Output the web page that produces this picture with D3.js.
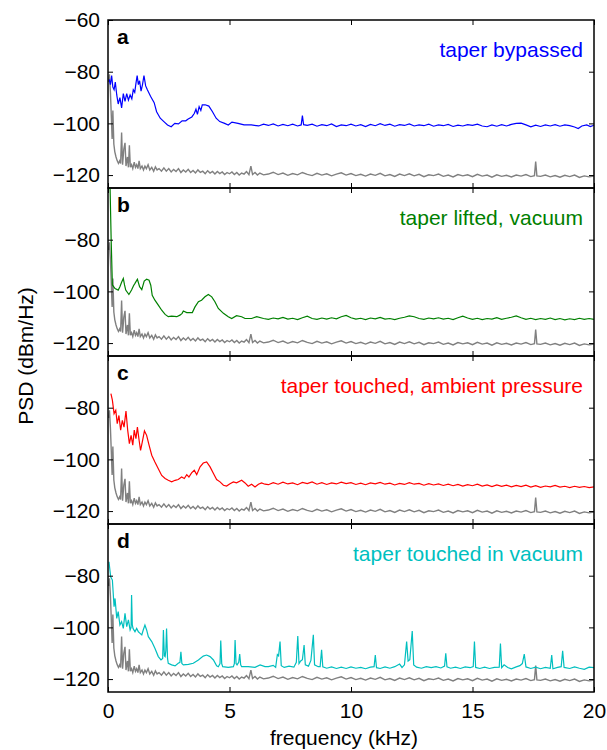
<!DOCTYPE html>
<html>
<head>
<meta charset="utf-8">
<script src="https://cdn.jsdelivr.net/npm/d3@7"></script>
<style>
body { margin: 0; background: #fff; }
text { font-family: "Liberation Sans", Arial, Helvetica, sans-serif; }
</style>
</head>
<body>
<div id="viz"></div>
<script>
// Data: [frequency (kHz), PSD (dBm/Hz)].
var noiseFloor = [
	[0.02,-84],[0.06,-81],[0.1,-88],[0.14,-98],[0.17,-106],[0.2,-95],[0.24,-108],[0.28,-111],[0.33,-113],[0.38,-114.5],
	[0.43,-115.5],[0.48,-114.5],[0.52,-115.5],[0.56,-103.5],[0.6,-116],[0.65,-110],[0.7,-107.5],[0.74,-116.5],[0.8,-113],[0.84,-117],
	[0.88,-108.5],[0.92,-117],[0.97,-116],[1.02,-117.5],[1.08,-115],[1.13,-117],[1.18,-116],[1.23,-117.5],[1.28,-114.5],[1.33,-117.5],
	[1.4,-116.5],[1.46,-118],[1.52,-116.5],[1.58,-117.5],[1.65,-116],[1.72,-118],[1.8,-117],[1.88,-118.5],[1.95,-116.8],[2.02,-118],
	[2.1,-117.5],[2.2,-118.5],[2.3,-117.2],[2.4,-118.5],[2.5,-117.5],[2.6,-118.8],[2.7,-117.8],[2.8,-118.6],[2.9,-117.5],[3.0,-119],
	[3.1,-118],[3.2,-118.8],[3.3,-117.8],[3.4,-119],[3.5,-118.2],[3.6,-119.2],[3.7,-118],[3.8,-119],[3.9,-118.5],[4.0,-119.5],
	[4.1,-118.3],[4.2,-119.2],[4.3,-118.6],[4.4,-119.6],[4.5,-118.6],[4.6,-119.4],[4.7,-118.8],[4.8,-119.8],[4.9,-119],[5.0,-119.5],
	[5.1,-118.8],[5.2,-119.8],[5.3,-119],[5.4,-120],[5.5,-119.2],[5.6,-119.6],[5.7,-118.6],[5.8,-119.8],[5.88,-116.5],[5.95,-119.8],
	[6.05,-119],[6.15,-120],[6.25,-119.2],[6.4,-119.9],
	[6.6,-119.6],[6.8,-118.9],[7.0,-119.8],[7.2,-119.2],[7.4,-120.1],[7.6,-119.4],[7.8,-119.9],[8.0,-119.0],[8.2,-119.7],[8.4,-120.2],
	[8.6,-119.3],[8.8,-120.0],[9.0,-119.5],[9.2,-120.3],[9.4,-119.6],[9.6,-119.1],[9.8,-120.0],[10.0,-119.4],[10.2,-120.2],[10.4,-119.7],
	[10.6,-120.4],[10.8,-119.6],[11.0,-120.1],[11.2,-119.3],[11.4,-120.3],[11.6,-119.8],[11.8,-120.5],[12.0,-119.6],[12.2,-120.2],[12.4,-119.5],
	[12.6,-120.3],[12.8,-119.7],[13.0,-120.6],[13.2,-119.9],[13.4,-120.2],[13.6,-119.6],[13.8,-120.5],[14.0,-120.0],[14.2,-120.7],[14.4,-119.8],
	[14.6,-120.3],[14.8,-119.9],[15.0,-120.6],[15.2,-119.7],[15.4,-120.4],[15.6,-120.0],[15.8,-120.8],[16.0,-119.9],[16.2,-120.5],[16.4,-120.1],
	[16.6,-120.7],[16.8,-120.0],[17.0,-120.4],[17.2,-119.8],[17.4,-120.6],[17.55,-120.2],[17.6,-114.8],[17.65,-120.3],[17.8,-120.5],[18.0,-120.0],
	[18.2,-120.7],[18.4,-120.2],[18.6,-120.8],[18.8,-120.1],[19.0,-120.6],[19.2,-120.0],[19.4,-120.9],[19.6,-120.3],[19.8,-120.7],[20.0,-120.4]
];

var bypassed = [
	[0.05,-83],[0.1,-85],[0.15,-81.5],[0.2,-86],[0.25,-87],[0.3,-84],[0.36,-89],[0.42,-92.5],[0.49,-90],[0.56,-94],
	[0.63,-88.5],[0.7,-91.5],[0.77,-88.5],[0.84,-91],[0.91,-89],[0.98,-90.5],[1.04,-87],[1.1,-88],[1.15,-84.5],[1.2,-81.5],
	[1.25,-85],[1.3,-83.5],[1.36,-87.5],[1.42,-85],[1.48,-81.5],[1.55,-85.5],[1.62,-87],[1.75,-89.5],[1.9,-92],[2.0,-95.5],
	[2.15,-98],[2.3,-99.3],[2.45,-100.6],[2.6,-101.3],[2.75,-100],[2.9,-100.2],[3.05,-99],[3.2,-99],[3.3,-98.3],[3.45,-97.5],
	[3.55,-96.2],[3.62,-94.5],[3.68,-96.5],[3.75,-93.5],[3.82,-95],[3.88,-92.8],[4.0,-92.8],[4.15,-93.3],[4.3,-95.5],[4.45,-98],
	[4.6,-99.3],[4.8,-100],[4.95,-100.6],[5.1,-99.5],[5.35,-100],[5.6,-100.6],[5.9,-100.6],[6.2,-101],[6.4,-100.3],
	[6.6,-100.8],[6.8,-100.2],[7.0,-101.0],[7.2,-100.4],[7.4,-100.9],[7.6,-100.3],[7.8,-101.0],[7.95,-100.6],[8.0,-97.0],[8.05,-100.5],
	[8.2,-100.8],[8.4,-100.3],[8.6,-101.1],[8.8,-100.5],[9.0,-100.9],[9.2,-100.2],[9.4,-101.2],[9.6,-100.6],[9.8,-100.9],[10.0,-100.3],
	[10.2,-101.0],[10.4,-100.5],[10.6,-101.2],[10.8,-100.4],[11.0,-100.9],[11.2,-100.1],[11.4,-100.8],[11.6,-100.3],[11.8,-101.1],[12.0,-100.5],
	[12.2,-100.8],[12.4,-100.2],[12.6,-101.0],[12.8,-100.6],[13.0,-100.9],[13.2,-100.3],[13.4,-101.1],[13.6,-100.6],[13.8,-100.9],[14.0,-100.4],
	[14.2,-101.2],[14.4,-100.7],[14.6,-101.0],[14.8,-100.5],[15.0,-100.8],[15.2,-100.3],[15.4,-101.0],[15.6,-101.3],[15.8,-100.6],[16.0,-101.1],
	[16.2,-100.5],[16.4,-101.0],[16.6,-100.4],[16.8,-100.0],[17.0,-99.9],[17.2,-100.6],[17.4,-101.3],[17.6,-100.7],[17.8,-101.2],[18.0,-100.6],
	[18.2,-101.0],[18.4,-100.5],[18.6,-101.1],[18.8,-100.6],[19.0,-100.9],[19.2,-101.4],[19.35,-102.0],[19.5,-101.0],[19.7,-100.6],[19.85,-101.2],[20.0,-100.7]
];

var liftedVacuum = [
	[0.04,-40],[0.09,-62],[0.13,-80],[0.18,-97.5],[0.29,-98.9],[0.42,-99.5],[0.49,-98.2],[0.56,-96.5],[0.63,-95],[0.68,-97.5],
	[0.73,-99.5],[0.86,-101.2],[0.97,-99.5],[1.05,-97.8],[1.11,-96.9],[1.21,-95.3],[1.3,-98.2],[1.39,-99.3],[1.49,-96],[1.59,-95.3],
	[1.69,-95.7],[1.76,-97.6],[1.82,-101.5],[1.93,-103.4],[2.07,-105.3],[2.21,-107.3],[2.35,-108.9],[2.48,-109.8],[2.62,-109.6],[2.83,-109.8],
	[2.96,-109.2],[3.05,-108.5],[3.1,-107.6],[3.24,-108.2],[3.47,-108.2],[3.58,-106],[3.72,-104],[3.85,-103.4],[3.99,-102.1],[4.13,-101.2],
	[4.27,-102.1],[4.4,-104],[4.54,-106.6],[4.75,-108.5],[4.95,-109.8],[5.09,-110.5],[5.29,-109.4],[5.5,-109.8],[5.64,-110.5],[5.91,-110.5],
	[6.12,-109.8],[6.4,-110.5],
	[6.6,-110.8],[6.8,-110.3],[7.0,-110.6],[7.2,-110.1],[7.4,-110.7],[7.6,-110.4],[7.8,-110.9],[8.0,-110.2],[8.2,-109.6],[8.4,-110.5],
	[8.6,-110.8],[8.8,-110.3],[9.0,-110.7],[9.2,-110.2],[9.4,-110.6],[9.6,-109.8],[9.8,-109.3],[10.0,-110.2],[10.2,-110.7],[10.4,-110.4],
	[10.6,-110.9],[10.8,-110.3],[11.0,-110.6],[11.2,-110.1],[11.4,-110.7],[11.6,-110.5],[11.8,-110.9],[12.0,-110.4],[12.2,-110.0],[12.4,-109.5],
	[12.6,-109.8],[12.8,-110.5],[13.0,-110.8],[13.2,-110.3],[13.4,-110.6],[13.6,-110.2],[13.8,-110.7],[14.0,-110.4],[14.2,-110.9],[14.4,-110.2],
	[14.6,-109.6],[14.8,-110.3],[15.0,-110.8],[15.2,-110.4],[15.4,-110.9],[15.6,-110.5],[15.8,-110.7],[16.0,-110.2],[16.2,-110.8],[16.4,-110.4],
	[16.6,-110.0],[16.8,-109.5],[17.0,-110.2],[17.2,-110.8],[17.4,-110.4],[17.6,-110.9],[17.8,-110.5],[18.0,-110.8],[18.2,-110.3],[18.4,-110.9],
	[18.6,-110.5],[18.8,-111.0],[19.0,-110.6],[19.2,-110.9],[19.4,-110.4],[19.6,-110.8],[19.8,-110.5],[20.0,-110.8]
];

var touchedAmbient = [
	[0.12,-74.6],[0.18,-77.1],[0.25,-82.3],[0.32,-81],[0.38,-86.2],[0.45,-83],[0.52,-88.7],[0.59,-84.9],[0.66,-87.5],[0.74,-81.3],
	[0.81,-88.7],[0.88,-93.9],[0.95,-90.7],[1.02,-94.5],[1.08,-88.7],[1.15,-92],[1.21,-87.5],[1.28,-92.6],[1.34,-96.5],[1.41,-93.3],
	[1.5,-89],[1.59,-90.7],[1.69,-94.5],[1.8,-98.4],[1.93,-101],[2.07,-103.6],[2.21,-106.2],[2.35,-107.4],[2.48,-108.1],[2.62,-108.7],
	[2.76,-108.1],[2.89,-107.8],[3.03,-106.8],[3.14,-107.4],[3.24,-105.9],[3.33,-106.8],[3.44,-105.2],[3.55,-104.2],[3.65,-105.9],[3.79,-102.9],
	[3.92,-101.4],[4.06,-101],[4.2,-102.9],[4.34,-105.5],[4.47,-107.8],[4.61,-108.7],[4.75,-110],[4.88,-110.3],[5.02,-109.4],[5.16,-108.7],
	[5.29,-109.1],[5.5,-108.1],[5.64,-109.1],[5.77,-110.4],[5.91,-109.6],[6.05,-110.7],[6.19,-109.6],[6.32,-109.1],[6.46,-109.6],
	[6.6,-109.8],[6.8,-109.0],[7.0,-109.6],[7.2,-108.8],[7.4,-109.5],[7.6,-109.1],[7.8,-109.8],[8.0,-108.9],[8.2,-109.4],[8.4,-108.7],
	[8.6,-109.6],[8.8,-109.0],[9.0,-109.7],[9.2,-109.1],[9.4,-109.5],[9.6,-108.8],[9.8,-109.4],[10.0,-109.0],[10.2,-109.7],[10.4,-109.2],
	[10.6,-109.8],[10.8,-109.1],[11.0,-109.5],[11.2,-108.9],[11.4,-109.6],[11.6,-109.2],[11.8,-109.9],[12.0,-109.3],[12.2,-109.7],[12.4,-109.0],
	[12.6,-109.6],[12.8,-109.3],[13.0,-110.0],[13.2,-109.4],[13.4,-109.9],[13.6,-109.5],[13.8,-110.1],[14.0,-109.6],[14.2,-110.2],[14.4,-109.7],
	[14.6,-110.3],[14.8,-109.8],[15.0,-110.2],[15.2,-109.6],[15.4,-110.3],[15.6,-109.9],[15.8,-110.5],[16.0,-109.9],[16.2,-110.4],[16.4,-110.0],
	[16.6,-110.6],[16.8,-110.1],[17.0,-110.5],[17.2,-110.0],[17.4,-110.7],[17.6,-110.2],[17.8,-110.8],[18.0,-110.3],[18.2,-110.6],[18.4,-110.1],
	[18.6,-110.7],[18.8,-110.4],[19.0,-110.9],[19.2,-110.4],[19.4,-110.8],[19.6,-110.5],[19.8,-110.9],[20.0,-110.6]
];

var touchedVacuum = [
	[0.04,-74.6],[0.11,-80.4],[0.18,-81.7],[0.25,-92],[0.29,-88.8],[0.36,-96.5],[0.42,-93.9],[0.49,-99.1],[0.56,-97.8],[0.63,-100.4],
	[0.7,-94.6],[0.77,-99.7],[0.84,-97.1],[0.91,-101],[0.95,-100],[0.97,-87.5],[1.0,-99],[1.03,-100.4],[1.11,-101.7],[1.18,-100.4],
	[1.25,-101.7],[1.32,-102.3],[1.39,-102.9],[1.45,-101],[1.52,-99.1],[1.59,-101],[1.66,-103.6],[1.8,-105.5],[1.93,-108.1],[2.07,-111.3],
	[2.18,-112.6],[2.25,-112],[2.28,-101],[2.32,-111],[2.35,-111.3],[2.38,-109],[2.41,-100.4],[2.45,-112],[2.48,-113.9],[2.62,-114.5],
	[2.76,-114.9],[2.89,-113.9],[2.96,-113.5],[3.0,-109.4],[3.04,-114],[3.1,-114.5],[3.31,-114.3],[3.51,-113.9],[3.72,-112.6],[3.92,-111.1],
	[4.06,-110.7],[4.2,-111.3],[4.34,-112.6],[4.47,-114.9],[4.54,-115.2],[4.61,-114],[4.64,-105.1],[4.68,-114],[4.72,-115.2],[4.95,-115.45],
	[5.16,-115.2],[5.2,-114],[5.23,-104.9],[5.27,-114],[5.31,-114.5],[5.38,-113.5],[5.42,-110.3],[5.46,-114.5],[5.5,-115.2],[5.77,-115.2],
	[6.05,-115.45],[6.26,-114.5],[6.46,-115.2],
	[6.6,-115.2],[6.8,-114.7],[6.9,-115.5],[6.97,-110.5],[7.02,-111],[7.08,-105.5],[7.13,-114.8],[7.25,-115.5],[7.45,-115],[7.65,-115.4],
	[7.75,-113.5],[7.81,-103.3],[7.86,-114],[7.93,-113],[8.0,-112.5],[8.07,-106.8],[8.12,-114.5],[8.25,-115],[8.35,-112.8],[8.45,-102.9],
	[8.5,-114.5],[8.65,-115.2],[8.73,-115.2],[8.79,-108.7],[8.84,-115.3],[9.0,-115.8],[9.2,-115.3],[9.4,-115.9],[9.6,-115.4],[9.8,-115.9],
	[10.0,-115.3],[10.2,-115.8],[10.4,-115.5],[10.6,-116],[10.8,-115.4],[10.95,-115.2],[11.0,-110.7],[11.05,-115.6],[11.2,-115.9],[11.4,-115.3],
	[11.6,-115.8],[11.8,-115.2],[12.0,-114.2],[12.1,-115.5],[12.2,-114.5],[12.29,-105.5],[12.35,-113],[12.42,-112.5],[12.52,-101.4],[12.58,-114.5],
	[12.7,-115.4],[12.9,-115.8],[13.1,-115.2],[13.3,-115.6],[13.5,-115.2],[13.7,-115.7],[13.85,-115],[13.9,-110],[13.95,-115.3],[14.1,-115.8],
	[14.3,-115.4],[14.5,-115.9],[14.7,-115.3],[14.9,-115.6],[15.03,-115.2],[15.08,-105.5],[15.13,-115.5],[15.3,-115.9],[15.5,-115.4],[15.7,-115.9],
	[15.9,-115.5],[16.1,-115.4],[16.15,-106.2],[16.2,-115.6],[16.3,-114.5],[16.45,-115.5],[16.6,-116],[16.8,-115.3],[16.95,-114.8],[17.05,-114],
	[17.13,-110.3],[17.2,-115.3],[17.4,-115.9],[17.6,-115.4],[17.8,-116],[18.0,-115.5],[18.2,-115.8],[18.26,-110.7],[18.31,-116],[18.5,-115.5],
	[18.65,-115.2],[18.71,-109.1],[18.77,-115.5],[19.0,-115.9],[19.2,-115.3],[19.4,-115.8],[19.6,-116.2],[19.8,-115.4],[20.0,-115.6]
];

var panelLetters = ["a", "b", "c", "d"];
var panelTitles = ["taper bypassed", "taper lifted, vacuum", "taper touched, ambient pressure", "taper touched in vacuum"];
var panelColors = ["#0000ff", "#008000", "#ff0000", "#00bfbf"];
var panelSeries = [bypassed, liftedVacuum, touchedAmbient, touchedVacuum];
var xTicks = [0, 5, 10, 15, 20];
var yTicksTop = [-120, -100, -80, -60];
var yTicks = [-120, -100, -80];

// Layout.
var marginLeft = 108, marginTop = 20;
var pw = 486, ph = 168;

var svg = d3.select("#viz")
	.append("svg")
	.attr("width", 607)
	.attr("height", 750);

var x = d3.scaleLinear().domain([0, 20]).range([0, pw]);
var y = d3.scaleLinear().domain([-125, -60]).range([ph, 0]);
var line = d3.line().x(d => x(d[0])).y(d => y(d[1]));

svg.append("defs").append("clipPath")
	.attr("id", "clip")
	.append("rect")
	.attr("width", pw)
	.attr("height", ph);

function styleAxis(g) {
	g.select(".domain").remove();
	g.selectAll(".tick line").attr("stroke", "#000").attr("stroke-width", 1);
	g.selectAll(".tick text")
		.attr("fill", "#000")
		.style("font-size", "21px")
		.style("font-family", "'Liberation Sans', Arial, Helvetica, sans-serif");
}

for (var i = 0; i < 4; ++i)
{
	var g = svg.append("g").attr("transform", "translate(" + marginLeft + "," + (marginTop + i * ph) + ")");

	// Noise floor, then the measured trace.
	g.append("path")
		.datum(noiseFloor)
		.attr("clip-path", "url(#clip)")
		.attr("fill", "none")
		.attr("stroke", "#808080")
		.attr("stroke-width", 1.4)
		.attr("d", line);

	g.append("path")
		.datum(panelSeries[i])
		.attr("clip-path", "url(#clip)")
		.attr("fill", "none")
		.attr("stroke", panelColors[i])
		.attr("stroke-width", 1.2)
		.attr("d", line);

	// Axes, ticks inward on all four sides.
	g.append("g")
		.call(d3.axisLeft(y).tickValues(i == 0 ? yTicksTop : yTicks).tickSizeInner(-5).tickSizeOuter(0).tickPadding(8))
		.call(styleAxis);

	g.append("g")
		.attr("transform", "translate(" + pw + ",0)")
		.call(d3.axisRight(y).tickValues(yTicks).tickSizeInner(-5).tickSizeOuter(0).tickFormat(""))
		.call(styleAxis);

	g.append("g")
		.call(d3.axisTop(x).tickValues(xTicks).tickSizeInner(-5).tickSizeOuter(0).tickFormat(""))
		.call(styleAxis);

	g.append("g")
		.attr("transform", "translate(0," + ph + ")")
		.call(d3.axisBottom(x).tickValues(xTicks).tickSizeInner(-5).tickSizeOuter(0).tickPadding(11)
			.tickFormat(i == 3 ? d3.format("d") : ""))
		.call(styleAxis);

	// Frame.
	g.append("rect")
		.attr("width", pw)
		.attr("height", ph)
		.attr("fill", "none")
		.attr("stroke", "#000")
		.attr("stroke-width", 1.5);

	// Panel letter and caption.
	g.append("text")
		.attr("x", 9)
		.attr("y", 24)
		.style("font-size", "21px")
		.style("font-weight", "bold")
		.text(panelLetters[i]);

	g.append("text")
		.attr("x", pw - 11)
		.attr("y", 37)
		.attr("text-anchor", "end")
		.attr("fill", panelColors[i])
		.style("font-size", "21px")
		.text(panelTitles[i]);
}

// Axis titles.
svg.append("text")
	.attr("x", marginLeft + pw / 2 - 7)
	.attr("y", 745)
	.attr("text-anchor", "middle")
	.style("font-size", "21px")
	.text("frequency (kHz)");

svg.append("text")
	.attr("transform", "translate(33," + (marginTop + 2 * ph) + ") rotate(-90)")
	.attr("text-anchor", "middle")
	.style("font-size", "21px")
	.text("PSD (dBm/Hz)");
</script>
</body>
</html>
